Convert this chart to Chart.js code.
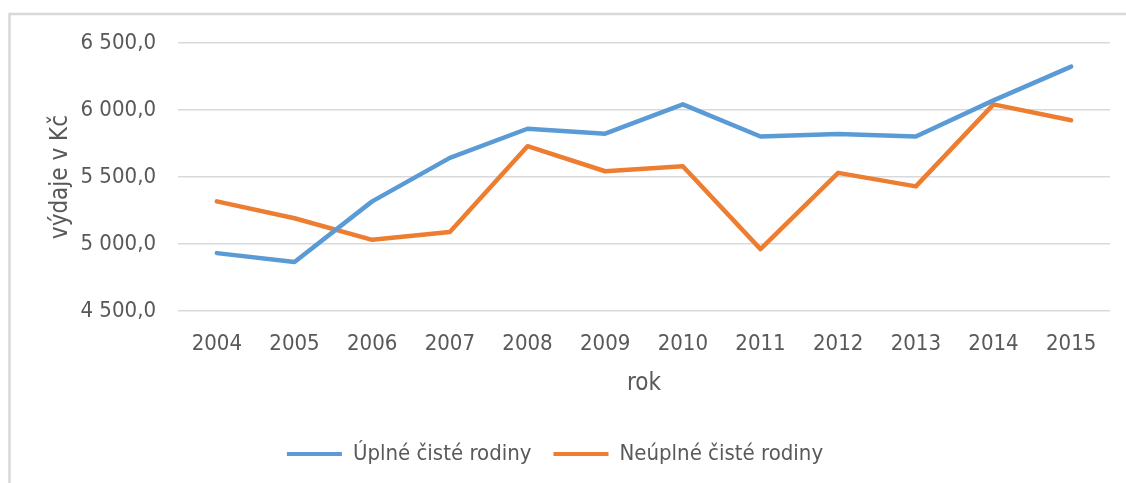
<!DOCTYPE html>
<html>
<head>
<meta charset="utf-8">
<script src="https://cdn.jsdelivr.net/npm/chart.js@4/dist/chart.umd.min.js"></script>
<style>
  html, body { margin: 0; padding: 0; background: #fff; }
  #wrap { position: relative; width: 1126px; height: 483px; }
</style>
</head>
<body>
<div id="wrap"><canvas id="chart" width="1126" height="483"></canvas></div>
<script>
const years = ['2004', '2005', '2006', '2007', '2008', '2009', '2010', '2011', '2012', '2013', '2014', '2015'];
const uplne = [4932, 4865, 5318, 5643, 5860, 5823, 6042, 5802, 5820, 5802, 6072, 6324];
const neuplne = [5318, 5192, 5031, 5089, 5730, 5543, 5580, 4962, 5531, 5430, 6042, 5924];
const seriesNames = ['Úplné čisté rodiny', 'Neúplné čisté rodiny'];
const yTitle = 'výdaje v Kč';
const xTitle = 'rok';

const FONT = "'Liberation Sans Narrow', 'DejaVu Sans Condensed', 'Open Sans', sans-serif";
const TEXT = '#595959';
const PLOT_BOTTOM = 311;

// czech number format: "6 500,0"
function fmt(v) {
  const parts = Number(v).toFixed(1).split('.');
  const int = parts[0].replace(/\B(?=(\d{3})+(?!\d))/g, ' ');
  return int + ',' + parts[1];
}

// the light frame of the original (only top + left edges are visible)
const frame = {
  id: 'frame',
  beforeDraw(chart) {
    const ctx = chart.ctx;
    ctx.save();
    ctx.strokeStyle = '#d9d9d9';
    ctx.lineWidth = 2.5;
    ctx.beginPath();
    ctx.moveTo(9.5, chart.height);
    ctx.lineTo(9.5, 14);
    ctx.lineTo(chart.width, 14);
    ctx.stroke();
    ctx.restore();
  }
};

const padBottom = 8;

new Chart(document.getElementById('chart'), {
  type: 'line',
  data: {
    labels: years,
    datasets: [
      {
        label: seriesNames[0],
        data: uplne,
        borderColor: '#5B9BD5',
        backgroundColor: '#5B9BD5',
        borderWidth: 4.5,
        pointRadius: 0,
        tension: 0,
        borderCapStyle: 'round',
        borderJoinStyle: 'round'
      },
      {
        label: seriesNames[1],
        data: neuplne,
        borderColor: '#ED7D31',
        backgroundColor: '#ED7D31',
        borderWidth: 4.5,
        pointRadius: 0,
        tension: 0,
        borderCapStyle: 'round',
        borderJoinStyle: 'round'
      }
    ]
  },
  options: {
    responsive: false,
    animation: false,
    layout: { padding: { top: 43, right: 16, left: 0, bottom: padBottom } },
    plugins: {
      tooltip: { enabled: false },
      legend: {
        position: 'bottom',
        labels: {
          color: TEXT,
          font: { family: FONT, size: 22 },
          boxWidth: 55,
          boxHeight: 4,
          padding: 22,
          generateLabels(chart) {
            const items = Chart.defaults.plugins.legend.labels.generateLabels(chart);
            items.forEach(it => { it.lineWidth = 0; });
            return items;
          }
        }
      }
    },
    scales: {
      x: {
        offset: true,
        grid: { display: false, drawTicks: false },
        border: { display: false },
        ticks: {
          color: TEXT,
          font: { family: FONT, size: 22 },
          padding: 20,
          maxRotation: 0,
          autoSkip: false
        },
        title: {
          display: true,
          text: xTitle,
          color: TEXT,
          font: { family: FONT, size: 24 },
          padding: { top: 0, bottom: 23 }
        },
        afterFit(scale) {
          const lh = scale.chart.legend ? scale.chart.legend.height : 0;
          scale.height = scale.chart.height - PLOT_BOTTOM - padBottom - lh;
        }
      },
      y: {
        min: 4500,
        max: 6500,
        ticks: {
          stepSize: 500,
          color: TEXT,
          font: { family: FONT, size: 22 },
          padding: 22,
          callback: v => fmt(v)
        },
        grid: { color: '#d9d9d9', lineWidth: 1.5, drawTicks: false },
        border: { display: false },
        title: {
          display: true,
          text: yTitle,
          color: TEXT,
          font: { family: FONT, size: 24 },
          padding: { top: 46, bottom: 0 }
        },
        afterFit(scale) {
          scale.width = 178;
        }
      }
    }
  },
  plugins: [frame]
});
</script>
</body>
</html>
